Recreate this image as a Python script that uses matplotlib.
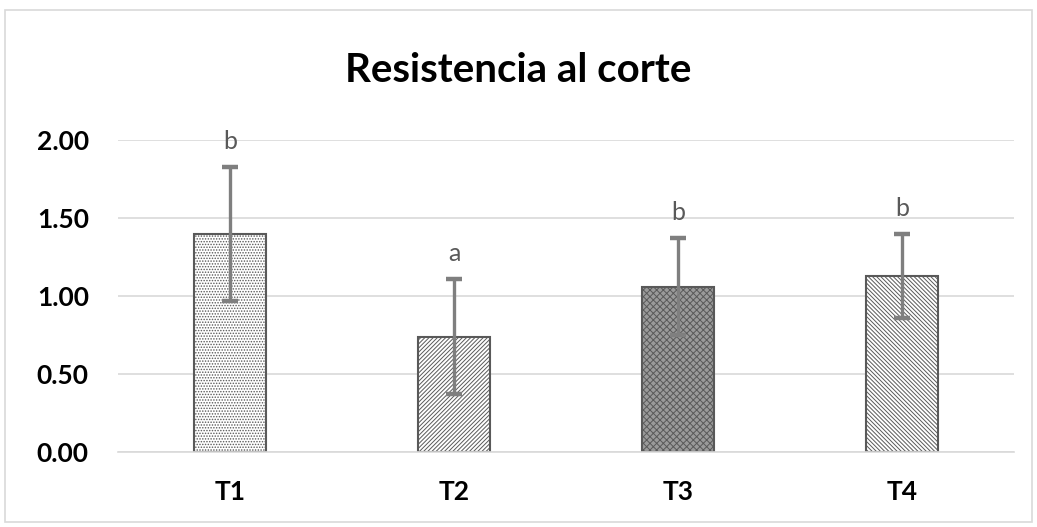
import matplotlib
matplotlib.use("Agg")
import matplotlib.pyplot as plt
from matplotlib.patches import Rectangle

categories = ["T1", "T2", "T3", "T4"]
values = [1.40, 0.74, 1.06, 1.13]
errors = [0.43, 0.37, 0.31, 0.27]
letters = ["b", "a", "b", "b"]
yticks = [0.0, 0.5, 1.0, 1.5, 2.0]

hatches = ["......", "////////", "xxxxx", "\\\\\\\\\\\\\\\\"]
faces = ["white", "white", "#9a9a9a", "white"]

plt.rcParams['hatch.linewidth'] = 0.7
plt.rcParams['font.family'] = ['Lato', 'DejaVu Sans']
fig = plt.figure(figsize=(10.37, 5.27), dpi=100)
ax = fig.add_axes([0.1138, 0.1423, 0.8642, 0.5920])

x = list(range(len(categories)))
for i in x:
    ax.bar(i, values[i], width=0.32, facecolor=faces[i], edgecolor="#595959",
           hatch=hatches[i], linewidth=1.5, zorder=2)
ax.errorbar(x, values, yerr=errors, fmt="none", ecolor="#7f7f7f", elinewidth=2.4,
            capsize=6, capthick=3.2, zorder=3)
for i in x:
    ax.text(i, values[i] + errors[i] + 0.09, letters[i], ha="center", va="bottom",
            fontsize=18, color="#595959", clip_on=False)

ax.set_xlim(-0.5, 3.5)
ax.set_ylim(0, 2.0)
ax.set_yticks(yticks)
ax.set_yticklabels([f"{v:.2f}" for v in yticks], fontsize=19, fontweight="bold")
ax.set_xticks(x)
ax.set_xticklabels(categories, fontsize=19, fontweight="bold")
ax.tick_params(axis="y", length=0, pad=21)
ax.tick_params(axis="x", length=0, pad=20)
ax.grid(axis="y", color="#d9d9d9", linewidth=1.2, zorder=0)
ax.set_axisbelow(True)
for s in ["top", "right", "left"]:
    ax.spines[s].set_visible(False)
ax.spines["bottom"].set_color("#d9d9d9")
ax.spines["bottom"].set_linewidth(1.2)

fig.text(0.5, 1 - 70 / 527, "Resistencia al corte", ha="center", va="center",
         fontsize=29, fontweight="bold", color="black")
fig.patches.append(Rectangle((5 / 1037, 5 / 527), 1 - 10 / 1037, 1 - 15 / 527,
                             transform=fig.transFigure, fill=False,
                             edgecolor="#d9d9d9", linewidth=1.2))
fig.savefig("out.png", dpi=100)
